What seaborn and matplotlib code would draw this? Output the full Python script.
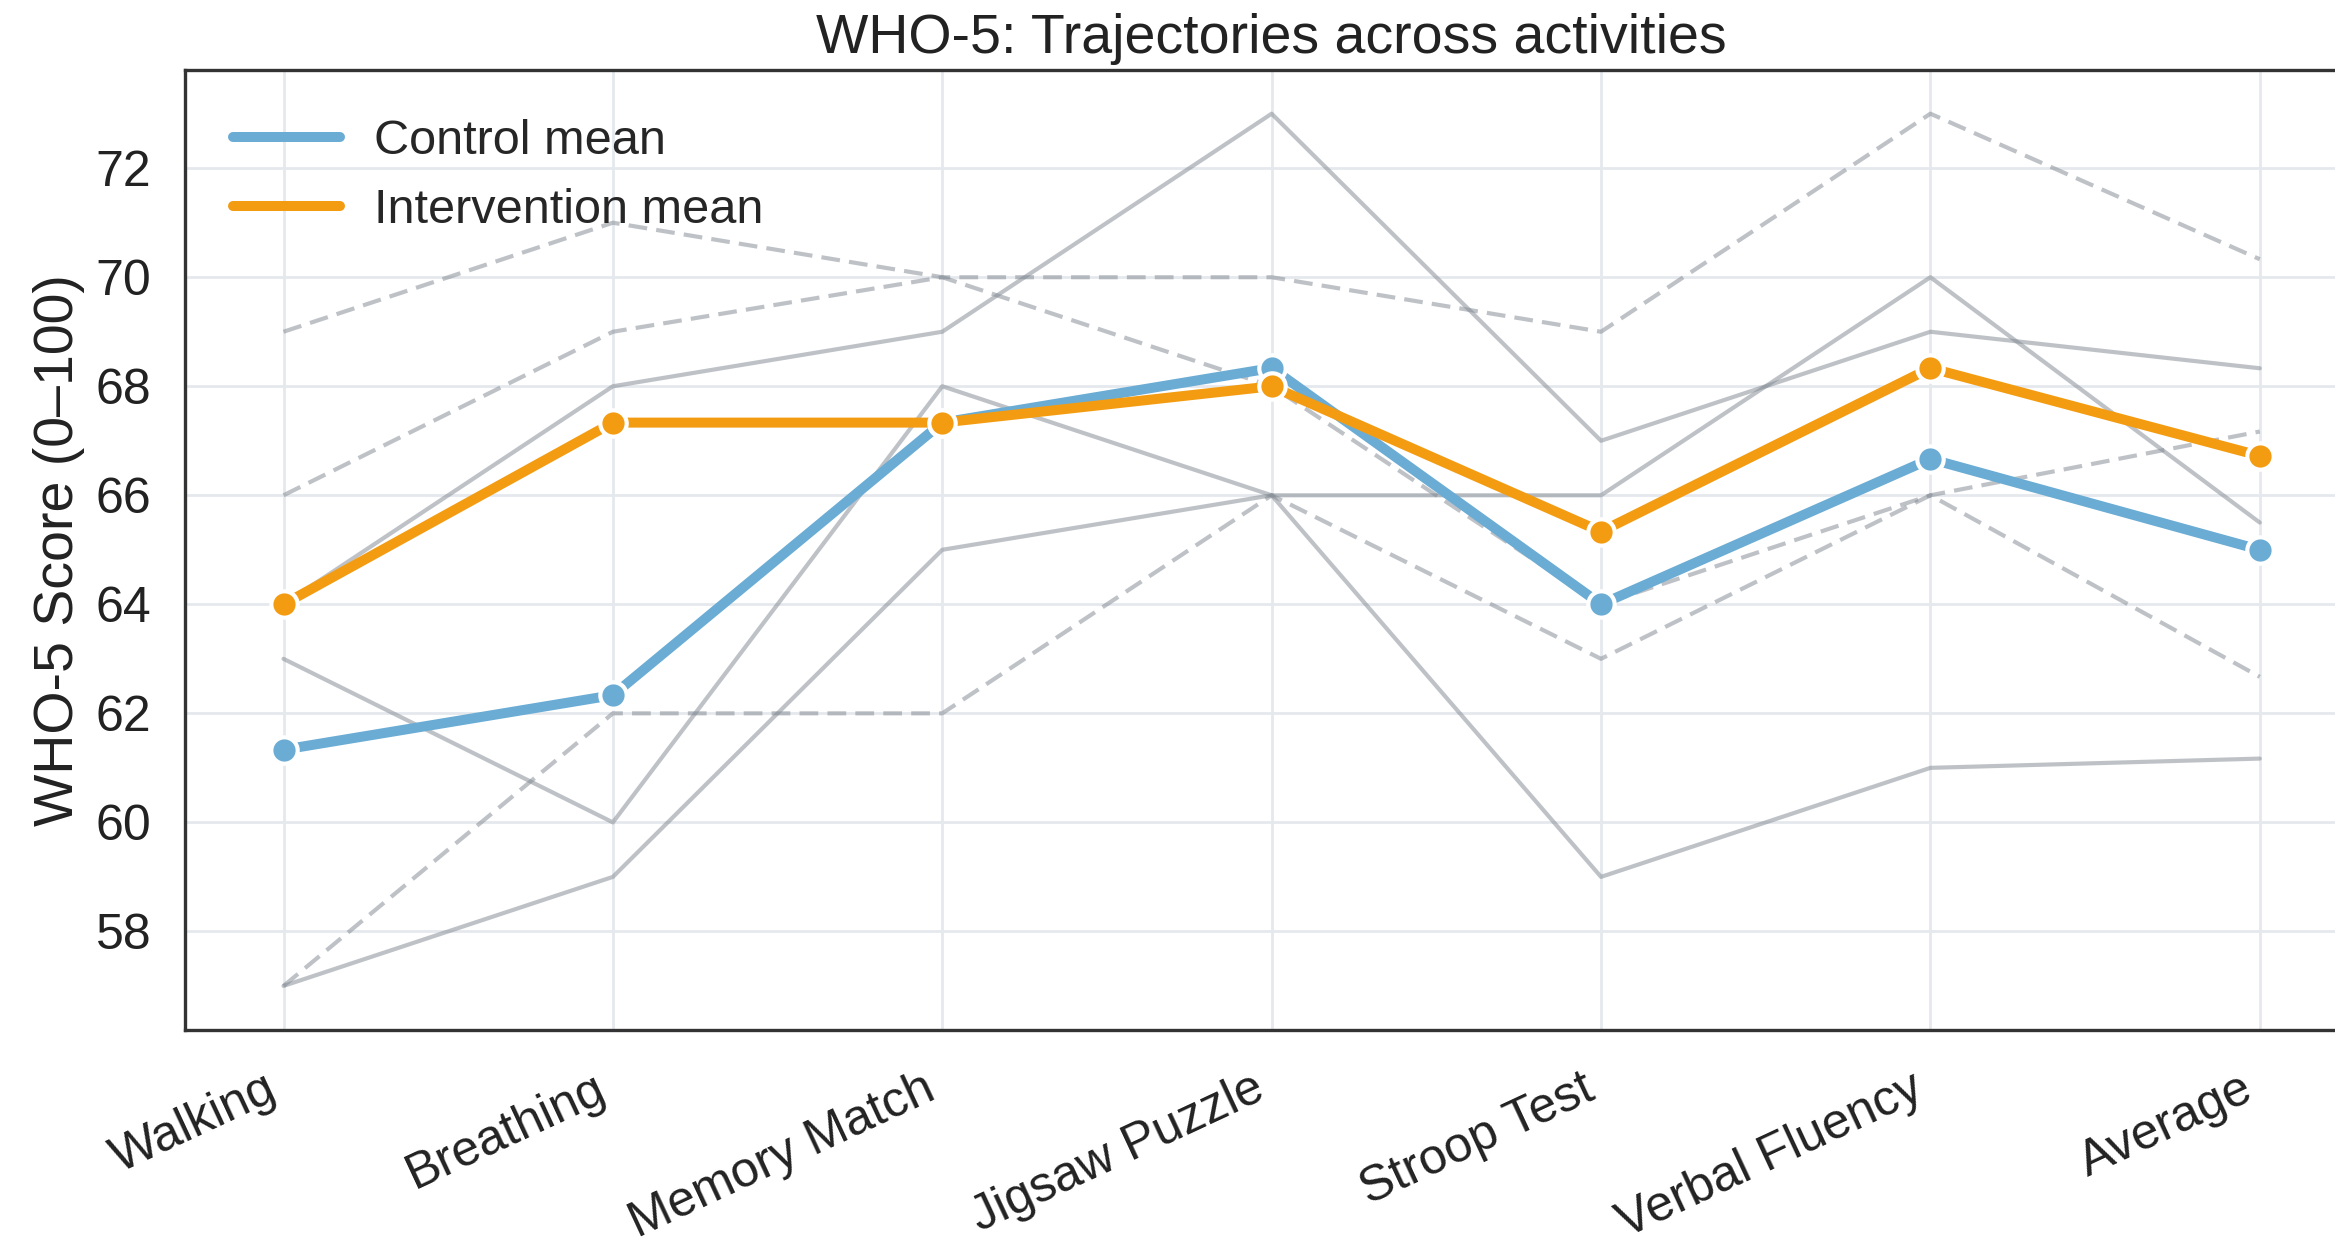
import pandas as pd
import matplotlib
matplotlib.use('Agg')
import matplotlib.pyplot as plt
import seaborn as sns
from matplotlib.lines import Line2D

activities = ['Walking', 'Breathing', 'Memory Match', 'Jigsaw Puzzle',
              'Stroop Test', 'Verbal Fluency', 'Average']

# individual participants (solid = control, dashed = intervention)
control_p1 = [64, 68, 69, 73, 67, 69, 68.33]
control_p2 = [63, 60, 68, 66, 66, 70, 65.5]
control_p3 = [57, 59, 65, 66, 59, 61, 61.17]
interv_p1 = [69, 71, 70, 70, 69, 73, 70.33]
interv_p2 = [66, 69, 70, 68, 64, 66, 67.17]
interv_p3 = [57, 62, 62, 66, 63, 66, 62.67]

participants = {
    ('C1', 'Control'): control_p1,
    ('C2', 'Control'): control_p2,
    ('C3', 'Control'): control_p3,
    ('I1', 'Intervention'): interv_p1,
    ('I2', 'Intervention'): interv_p2,
    ('I3', 'Intervention'): interv_p3,
}

rows = []
for (pid, grp), vals in participants.items():
    for act, v in zip(activities, vals):
        rows.append({'participant': pid, 'group': grp, 'activity': act, 'score': v})
df = pd.DataFrame(rows)

sns.set_theme(style='whitegrid')
plt.rcParams['font.family'] = ['Liberation Sans', 'DejaVu Sans']
plt.rcParams['grid.color'] = '#e5e8ec'
plt.rcParams['grid.linewidth'] = 1.0

blue = '#6aacd4'
orange = '#f39c12'

fig = plt.figure(figsize=(11.675, 6.235), dpi=200)
ax = fig.add_axes([0.0791, 0.1744, 0.931, 0.7694])

sns.lineplot(data=df, x='activity', y='score', units='participant', estimator=None,
             style='group', dashes={'Control': '', 'Intervention': (4.5, 2.2)},
             color='#7f8790', alpha=0.5, lw=1.5, legend=False, ax=ax)

for grp, col in [('Control', blue), ('Intervention', orange)]:
    sns.lineplot(data=df[df['group'] == grp], x='activity', y='score',
                 estimator='mean', errorbar=None, color=col, lw=3.6,
                 marker='o', markersize=9.5, markeredgecolor='white',
                 markeredgewidth=1.5, legend=False, ax=ax, zorder=5)

handles = [Line2D([0], [0], color=blue, lw=3.6, solid_capstyle='round'),
           Line2D([0], [0], color=orange, lw=3.6, solid_capstyle='round')]
ax.legend(handles, ['Control mean', 'Intervention mean'], loc='upper left',
          frameon=False, fontsize=17.5, handlelength=2.2, handletextpad=0.7,
          labelspacing=0.5, borderaxespad=0.6)

ax.set_yticks([58, 60, 62, 64, 66, 68, 70, 72])
ax.set_xlabel('')
ax.set_ylabel('WHO-5 Score (0–100)', fontsize=20, color='#222222')
ax.set_title('WHO-5: Trajectories across activities', fontsize=20, color='#222222', pad=6)
ax.tick_params(axis='y', labelsize=18, pad=6, colors='#222222')
ax.tick_params(axis='x', labelsize=18, pad=7, colors='#222222')
plt.setp(ax.get_xticklabels(), rotation=25, ha='right')

for s in ax.spines.values():
    s.set_color('#333333')
    s.set_linewidth(1.2)

fig.savefig('out.png', dpi=200)
